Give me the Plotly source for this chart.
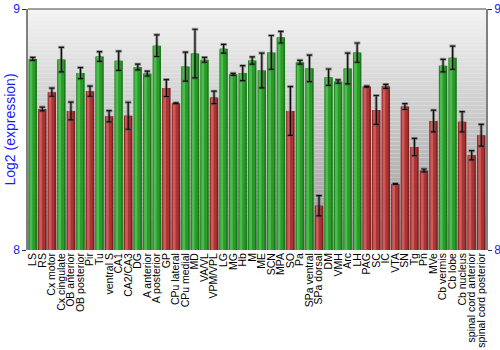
import plotly.graph_objects as go

# Brain regions, in plotting order
regions = [
    "LS", "RS", "Cx motor", "Cx cingulate", "OB anterior", "OB posterior", "Pir", "Tu",
    "ventral S", "CA1", "CA2/CA3", "DG", "A anterior", "A posterior", "GP", "CPu lateral",
    "CPu medial", "MD", "VA/VL", "VPM/VPL", "LG", "MG", "Hb", "M", "ME", "SCN", "MPA",
    "SO", "Pa", "SPa ventral", "SPa dorsal", "DM", "VMH", "Arc", "LH", "PAG", "SC", "IC",
    "VTA", "SN", "Tg", "Pn", "MVe", "Cb vermis", "Cb lobe", "Cb nucleus",
    "spinal cord anterior", "spinal cord posterior",
]

# Mean log2 expression per region
expression = [
    8.793, 8.585, 8.655, 8.790, 8.577, 8.734, 8.659, 8.803,
    8.555, 8.785, 8.557, 8.759, 8.732, 8.848, 8.672, 8.609,
    8.761, 8.815, 8.789, 8.633, 8.835, 8.729, 8.734, 8.786, 8.745, 8.820, 8.883,
    8.577, 8.779, 8.754, 8.184, 8.717, 8.699, 8.753, 8.819, 8.678, 8.581, 8.679,
    8.274, 8.595, 8.427, 8.330, 8.535, 8.765, 8.798, 8.532,
    8.393, 8.476,
]

# Standard error per region
std_error = [
    0.006, 0.008, 0.017, 0.051, 0.037, 0.023, 0.021, 0.020,
    0.023, 0.040, 0.056, 0.012, 0.010, 0.045, 0.035, 0.002,
    0.060, 0.101, 0.010, 0.026, 0.018, 0.004, 0.031, 0.015, 0.072, 0.070, 0.024,
    0.101, 0.008, 0.055, 0.042, 0.034, 0.007, 0.064, 0.040, 0.002, 0.060, 0.008,
    0.002, 0.012, 0.036, 0.006, 0.045, 0.026, 0.048, 0.042,
    0.019, 0.045,
]

# 1 = high expression (green), 0 = low expression (red)
high_flag = [
    1, 0, 0, 1, 0, 1, 0, 1,
    0, 1, 0, 1, 1, 1, 0, 0,
    1, 1, 1, 0, 1, 1, 1, 1, 1, 1, 1,
    0, 1, 1, 0, 1, 1, 1, 1, 0, 0, 0,
    0, 0, 0, 0, 0, 1, 1, 0,
    0, 0,
]

BASE = 8
xs = list(range(len(regions)))
heights = [v - BASE for v in expression]

# (dark edge, body, highlight) shades for each colour group
GREEN = ("#177a17", "#2a9a2a", "#4dbb4d")
RED = ("#7e2020", "#a83434", "#cf5a5a")
shades = [GREEN if f else RED for f in high_flag]

fig = go.Figure()

# Cylinder-like shading: stacked overlays of decreasing width
layers = [
    (0, 0.88, -0.44),   # full bar, dark edges
    (1, 0.66, -0.38),   # body
    (2, 0.28, -0.32),   # highlight toward the left
]
for idx, w, off in layers:
    fig.add_trace(go.Bar(
        x=xs, y=heights, base=BASE,
        width=w, offset=off,
        marker=dict(color=[s[idx] for s in shades], line=dict(width=0)),
        hoverinfo="skip", showlegend=False,
    ))

# Error bars: soft grey halo under a thin black whisker
for col, thick, cap in [("rgba(90,90,90,0.55)", 3.0, 3.2), ("rgba(0,0,0,0.9)", 1.2, 2.6)]:
    fig.add_trace(go.Scatter(
        x=xs, y=expression, mode="markers",
        marker=dict(size=1, opacity=0),
        error_y=dict(type="data", array=std_error, visible=True,
                     color=col, thickness=thick, width=cap),
        hoverinfo="skip", showlegend=False,
    ))

# Vertical grey gradient behind the plot area
n_strips = 60
top_c, bot_c = 243, 150
shapes = []
for i in range(n_strips):
    t = i / (n_strips - 1)
    g = round(top_c + (bot_c - top_c) * t)
    shapes.append(dict(
        type="rect", xref="paper", yref="paper", layer="below",
        x0=0, x1=1, y1=1 - i / n_strips, y0=1 - (i + 1) / n_strips,
        fillcolor=f"rgb({g},{g},{g})", line=dict(width=0),
    ))
shapes.append(dict(type="line", xref="paper", yref="paper", x0=0, x1=1, y0=1, y1=1,
                   line=dict(color="#808080", width=1.5)))

blue = "#1a1aff"
axis_common = dict(
    range=[8, 9], tickvals=[8, 9], ticktext=["8", "9"],
    tickfont=dict(family="Liberation Sans, Arial, sans-serif", size=12, color=blue),
    ticks="outside", ticklen=4, tickcolor="#333333", ticklabelstandoff=0,
    showline=True, linecolor="#808080", linewidth=1.5,
    showgrid=False, zeroline=False, fixedrange=True, automargin=False,
)

L, R, T, B = 28, 14, 9, 100
fig.update_layout(
    width=500, height=350,
    margin=dict(l=L, r=R, t=T, b=B, autoexpand=False),
    paper_bgcolor="white", plot_bgcolor="rgba(0,0,0,0)",
    barmode="overlay",
    shapes=shapes,
    font=dict(family="Liberation Sans, Arial, sans-serif"),
    xaxis=dict(
        range=[-0.5, len(regions) - 0.5],
        tickvals=xs, ticktext=regions, tickangle=-90,
        tickfont=dict(size=10.5, color="black"),
        ticks="", showline=False, showgrid=False, zeroline=False, automargin=False,
    ),
    yaxis=dict(**axis_common),
    yaxis2=dict(**axis_common, overlaying="y", side="right"),
    annotations=[dict(
        text="Log2 (expression)", textangle=-90,
        xref="paper", yref="paper", x=(9 - L) / (500 - L - R), y=0.5,
        xanchor="center", yanchor="middle", showarrow=False,
        font=dict(size=14, color=blue),
    )],
)

# Invisible trace so the right-hand axis is drawn
fig.add_trace(go.Scatter(x=[0], y=[8], yaxis="y2", mode="markers",
                         marker=dict(opacity=0), hoverinfo="skip", showlegend=False))

fig.write_html("out.html")
